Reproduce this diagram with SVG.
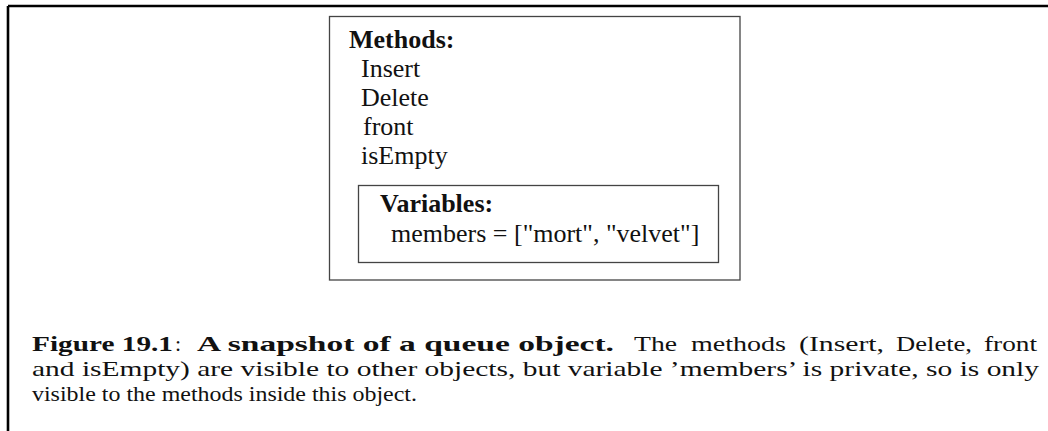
<svg xmlns="http://www.w3.org/2000/svg" width="1048" height="431" viewBox="0 0 1048 431">
<style>
.frame{stroke:#000;stroke-width:2.6;fill:none}
.box{fill:#fff;stroke:#444;stroke-width:1.3}
.lbl{font-family:"Liberation Serif","Times New Roman",serif;font-size:26px;fill:#111}
.b{font-weight:bold}
.cap{font-family:"Liberation Serif","Times New Roman",serif;font-size:22px;fill:#111}
</style>
<rect width="1048" height="431" fill="#fff"/>
<g id="frame">
<line class="frame" x1="8" y1="6" x2="1048" y2="6"/>
<line class="frame" x1="8" y1="6" x2="8" y2="431"/>
</g>
<g id="object">
<rect class="box" x="329.5" y="16.5" width="410.5" height="263.5"/>
<text class="lbl b" x="349" y="48">Methods:</text>
<text class="lbl" x="361" y="77">Insert</text>
<text class="lbl" x="361" y="106">Delete</text>
<text class="lbl" x="363" y="135">front</text>
<text class="lbl" x="361" y="164">isEmpty</text>
</g>
<g id="variables">
<rect class="box" x="358.5" y="185.5" width="360" height="77"/>
<text class="lbl b" x="380" y="212">Variables:</text>
<text class="lbl" x="391" y="242">members = ["mort", "velvet"]</text>
</g>
<g id="connectors"></g>
<g id="caption">
<text class="cap b" x="32" y="351" textLength="141" lengthAdjust="spacingAndGlyphs">Figure 19.1</text>
<text class="cap" x="175" y="351">:</text>
<text class="cap b" x="197" y="351" textLength="417" lengthAdjust="spacingAndGlyphs">A snapshot of a queue object.</text>
<text class="cap" x="634" y="351" textLength="43" lengthAdjust="spacingAndGlyphs">The</text>
<text class="cap" x="691" y="351" textLength="95" lengthAdjust="spacingAndGlyphs">methods</text>
<text class="cap" x="799" y="351" textLength="85" lengthAdjust="spacingAndGlyphs">(Insert,</text>
<text class="cap" x="896" y="351" textLength="76" lengthAdjust="spacingAndGlyphs">Delete,</text>
<text class="cap" x="984" y="351" textLength="53" lengthAdjust="spacingAndGlyphs">front</text>
<text class="cap" x="32" y="376" textLength="1007" lengthAdjust="spacingAndGlyphs">and isEmpty) are visible to other objects, but variable ’members’ is private, so is only</text>
<text class="cap" x="32" y="401" textLength="385" lengthAdjust="spacingAndGlyphs">visible to the methods inside this object.</text>
</g>
</svg>
